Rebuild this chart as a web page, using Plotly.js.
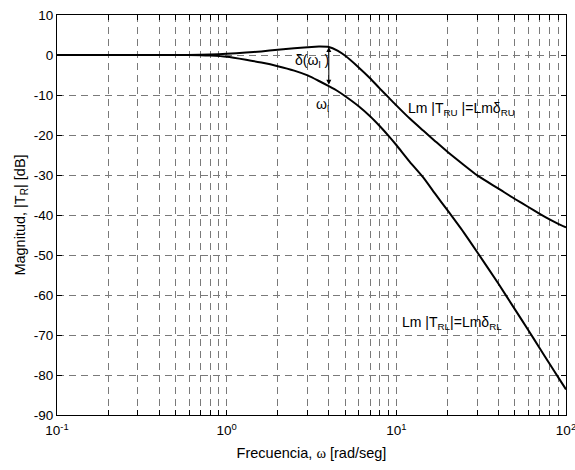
<!DOCTYPE html>
<html>
<head>
<meta charset="utf-8">
<script src="https://cdn.plot.ly/plotly-3.0.1.min.js"></script>
<style>html,body{margin:0;padding:0;background:#fff;}#chart{width:575px;height:470px;}</style>
</head>
<body>
<div id="chart"></div>
<script>
// Frequency samples (rad/seg)
const omega = [0.1, 0.2, 0.3, 0.5, 0.7, 0.8, 1, 1.3, 1.6, 2, 2.5, 3, 3.5, 4, 4.5, 5, 6, 7, 8, 9, 10, 12, 14.4, 17, 20, 25, 30, 40, 50, 60, 70, 80, 90, 100];
// Lm |T_RU| (dB) - upper bound
const lmRU = [0, 0, 0, 0, 0.05, 0.1, 0.3, 0.6, 0.9, 1.3, 1.7, 1.95, 2.1, 2.0, 1.1, -0.2, -3.1, -5.8, -8.4, -10.6, -12.6, -15.9, -18.9, -21.6, -24.2, -27.5, -30.1, -33.4, -36.0, -38.0, -39.7, -41.1, -42.2, -43.1];
// Lm |T_RL| (dB) - lower bound
const lmRL = [0, 0, 0, 0, -0.05, -0.15, -0.45, -1.2, -1.9, -2.8, -3.9, -5.1, -6.5, -7.8, -9.0, -10.3, -12.8, -15.3, -17.8, -20.2, -22.5, -26.7, -30.6, -34.8, -38.8, -44.4, -49.3, -57.2, -63.6, -68.8, -73.3, -77.2, -80.6, -83.6];
// Frequency omega_l where delta is marked
const omegaL = 4;

// Axis ticks
const xMajorVals = [0.1, 1, 10, 100];
const xMajorText = ['10<sup>-1</sup>', '10<sup>0</sup>', '10<sup>1</sup>', '10<sup>2</sup>'];
const xMinorVals = [];
[0.1, 1, 10].forEach(d => { for (let k = 2; k <= 9; k++) xMinorVals.push(+(d * k).toPrecision(3)); });
const yTickVals = [10, 0, -10, -20, -30, -40, -50, -60, -70, -80, -90];
const yTickText = ['10', '0', '-10', '-20', '-30', '-40', '-50', '-60', '-70', '-80', '-90'];

const iL = omega.indexOf(omegaL);
const fam = 'Arial, "Liberation Sans", sans-serif';
const tickFont = {family: fam, size: 13.5, color: '#000'};
const titleFont = {family: fam, size: 14.5, color: '#000'};
const annFont = {family: fam, size: 14, color: '#000'};

const traces = [
  {x: omega, y: lmRU, mode: 'lines', line: {color: '#000', width: 2, shape: 'spline', smoothing: 0.6}, hoverinfo: 'skip'},
  {x: omega, y: lmRL, mode: 'lines', line: {color: '#000', width: 2, shape: 'spline', smoothing: 0.6}, hoverinfo: 'skip'}
];

const gridColor = '#7a7a7a';
const gridDash = '7px,5px';

const layout = {
  width: 575, height: 470,
  margin: {l: 57, r: 9, t: 15, b: 55},
  paper_bgcolor: '#fff', plot_bgcolor: '#fff',
  showlegend: false,
  font: tickFont,
  xaxis: {
    type: 'log', range: [-1, 2], autorange: false,
    tickmode: 'array', tickvals: xMajorVals, ticktext: xMajorText,
    ticks: 'inside', ticklen: 5, tickcolor: '#000', tickwidth: 1,
    showgrid: true, gridcolor: gridColor, gridwidth: 1, griddash: gridDash,
    minor: {tickmode: 'array', tickvals: xMinorVals, ticks: 'inside', ticklen: 5, tickcolor: '#000', tickwidth: 1,
            showgrid: true, gridcolor: gridColor, gridwidth: 1, griddash: gridDash},
    showline: true, linecolor: '#000', linewidth: 1, mirror: 'ticks',
    zeroline: false, automargin: false, ticklabeloverflow: 'allow', ticklabelstandoff: 3,
    tickfont: tickFont,
    title: {text: 'Frecuencia, <span style="font-family:\'Liberation Serif\', serif">ω</span> [rad/seg]', font: titleFont, standoff: 10}
  },
  yaxis: {
    range: [-90, 10], autorange: false,
    tickmode: 'array', tickvals: yTickVals, ticktext: yTickText,
    ticks: 'inside', ticklen: 5, tickcolor: '#000', tickwidth: 1,
    showgrid: true, gridcolor: gridColor, gridwidth: 1, griddash: gridDash,
    showline: true, linecolor: '#000', linewidth: 1, mirror: 'ticks',
    zeroline: false, automargin: false,
    tickfont: tickFont,
    title: {text: 'Magnitud, |T<sub>R</sub>| [dB]', font: titleFont, standoff: 4}
  },
  annotations: [
    {x: Math.log10(omegaL), y: lmRU[iL], ax: Math.log10(omegaL), ay: lmRL[iL], xref: 'x', yref: 'y', axref: 'x', ayref: 'y',
     text: '', showarrow: true, arrowhead: 2, arrowside: 'end+start', arrowsize: 1, arrowwidth: 1, arrowcolor: '#000'},
    {x: Math.log10(3.2), y: -1.6, xref: 'x', yref: 'y', text: 'δ(ω<sub>l</sub> )', showarrow: false, font: annFont, xanchor: 'center', yanchor: 'middle'},
    {x: Math.log10(3.66), y: -12.6, xref: 'x', yref: 'y', text: 'ω<sub>l</sub>', showarrow: false, font: annFont, xanchor: 'center', yanchor: 'middle'},
    {x: Math.log10(11.4), y: -13.6, xref: 'x', yref: 'y', text: 'Lm |T<sub>RU</sub> |=Lmδ<sub>RU</sub>', showarrow: false, font: annFont, xanchor: 'left', yanchor: 'middle'},
    {x: Math.log10(10.5), y: -67.0, xref: 'x', yref: 'y', text: 'Lm |T<sub>RL</sub>|=Lmδ<sub>RL</sub>', showarrow: false, font: annFont, xanchor: 'left', yanchor: 'middle'}
  ]
};

Plotly.newPlot('chart', traces, layout, {staticPlot: true, displayModeBar: false});
</script>
</body>
</html>
